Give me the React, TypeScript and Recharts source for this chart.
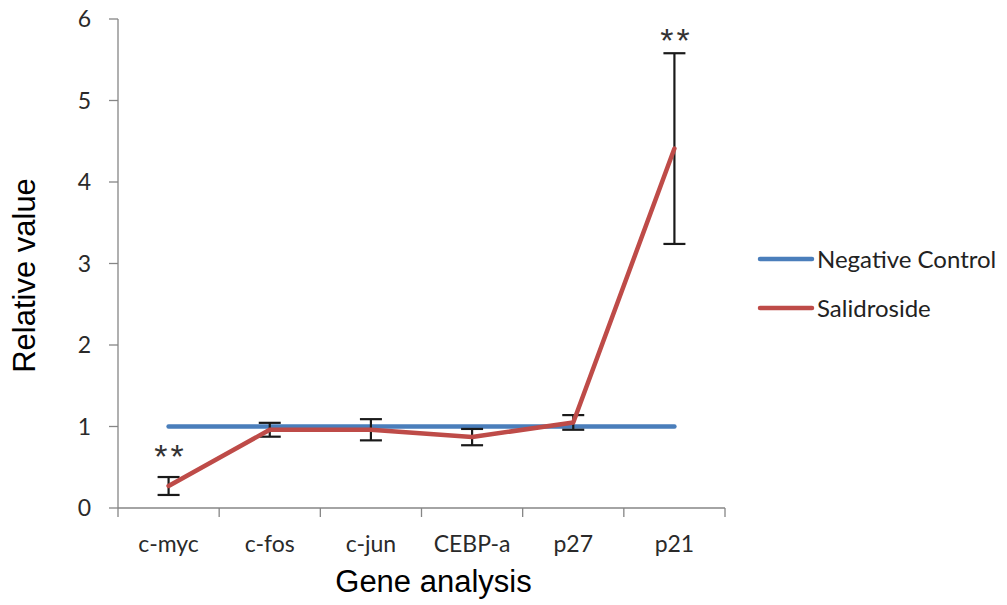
import React from 'react';
import {
  ComposedChart,
  Line,
  XAxis,
  YAxis,
  ErrorBar,
  Legend,
  Scatter,
  Label,
} from 'recharts';

const categories = ['c-myc', 'c-fos', 'c-jun', 'CEBP-a', 'p27', 'p21'];
const negativeControl = [1, 1, 1, 1, 1, 1];
const salidroside = [0.27, 0.96, 0.96, 0.87, 1.05, 4.41];
const salidrosideErr = [0.11, 0.085, 0.13, 0.1, 0.09, 1.17];
const significance = ['**', '', '', '', '', '**'];
const significanceY = [0.69, null, null, null, null, 5.79];
const yTicks = [0, 1, 2, 3, 4, 5, 6];

const data = categories.map((name, i) => ({
  name,
  x: i + 0.5,
  negative: negativeControl[i],
  salidroside: salidroside[i],
  err: salidrosideErr[i],
}));

const sigData = categories
  .map((name, i) => ({ name, x: i + 0.5, y: significanceY[i], label: significance[i] }))
  .filter((d) => d.label !== '' && d.y !== null);

const xTicks: number[] = [];
for (let i = 0; i <= categories.length; i++) {
  xTicks.push(i);
  if (i < categories.length) xTicks.push(i + 0.5);
}

const AXIS = '#868686';
const TICK_FONT = 'Lato, "Open Sans", sans-serif';
const TITLE_FONT = '"Liberation Sans", Arial, sans-serif';

const XTick = (props: any) => {
  const { x, y, payload } = props;
  const v = payload.value as number;
  if (Number.isInteger(v)) {
    return <line x1={x} y1={y} x2={x} y2={y + 9} stroke={AXIS} strokeWidth={1.3} />;
  }
  const idx = Math.floor(v);
  return (
    <text x={x} y={y + 44} textAnchor="middle" fontFamily={TICK_FONT} fontSize={23} fill="#2a2a2a">
      {categories[idx]}
    </text>
  );
};

const StarShape = (props: any) => {
  const { cx, cy, payload } = props;
  return (
    <text
      x={cx + 2}
      y={cy + 16}
      textAnchor="middle"
      fontFamily={TITLE_FONT}
      fontSize={34}
      letterSpacing={3}
      fill="#333"
    >
      {payload.label}
    </text>
  );
};

const LegendContent = (props: any) => {
  const items = (props.payload || []).filter((p: any) => p.type !== 'none');
  return (
    <div style={{ fontFamily: TICK_FONT, fontSize: 24, color: '#222' }}>
      {items.map((p: any) => (
        <div key={p.value} style={{ height: 49, display: 'flex', alignItems: 'center' }}>
          <svg width={60} height={10} style={{ display: 'block' }}>
            <line x1={3} y1={5} x2={55} y2={5} stroke={p.color} strokeWidth={4.5} strokeLinecap="round" />
          </svg>
          <span style={{ whiteSpace: 'nowrap' }}>{p.value}</span>
        </div>
      ))}
    </div>
  );
};

export default function App() {
  return (
    <div style={{ position: 'absolute', left: 0, top: 0, width: 1007, height: 605, background: '#fff' }}>
      <ComposedChart
        width={1007}
        height={605}
        data={data}
        margin={{ top: 19, right: 282, bottom: 37, left: 0 }}
      >
        <XAxis
          dataKey="x"
          type="number"
          domain={[0, categories.length]}
          ticks={xTicks}
          interval={0}
          tick={<XTick />}
          tickLine={false}
          tickSize={0}
          tickMargin={0}
          axisLine={{ stroke: AXIS, strokeWidth: 1.3 }}
          height={60}
        >
          <Label
            content={(p: any) => {
              const vb = p.viewBox;
              return (
                <text
                  x={vb.x + vb.width / 2 + 12}
                  y={592}
                  textAnchor="middle"
                  fontFamily={TITLE_FONT}
                  fontSize={31}
                  fill="#000"
                >
                  Gene analysis
                </text>
              );
            }}
          />
        </XAxis>
        <YAxis
          type="number"
          domain={[0, 6]}
          ticks={yTicks}
          interval={0}
          width={118}
          tickSize={9}
          tickMargin={18}
          tick={{ fontFamily: TICK_FONT, fontSize: 23, fill: '#2a2a2a' }}
          tickLine={{ stroke: AXIS, strokeWidth: 1.3 }}
          axisLine={{ stroke: AXIS, strokeWidth: 1.3 }}
        >
          <Label
            content={(p: any) => {
              const vb = p.viewBox;
              const cy = vb.y + vb.height / 2 + 12;
              return (
                <text
                  x={35}
                  y={cy}
                  transform={`rotate(-90 35 ${cy})`}
                  textAnchor="middle"
                  fontFamily={TITLE_FONT}
                  fontSize={31}
                  fill="#000"
                >
                  Relative value
                </text>
              );
            }}
          />
        </YAxis>
        <Legend
          layout="horizontal"
          verticalAlign="middle"
          align="center"
          content={<LegendContent />}
          wrapperStyle={{ left: 757, top: 234, width: 250 }}
        />
        <Line
          name="Negative Control"
          dataKey="negative"
          stroke="#4A7EBB"
          strokeWidth={4.5}
          strokeLinecap="round"
          dot={false}
          activeDot={false}
          isAnimationActive={false}
        />
        <Line
          name="Salidroside"
          dataKey="salidroside"
          stroke="#BE4B48"
          strokeWidth={4.5}
          strokeLinecap="round"
          strokeLinejoin="round"
          dot={false}
          activeDot={false}
          isAnimationActive={false}
        >
          <ErrorBar dataKey="err" width={11} strokeWidth={2.2} stroke="#1a1a1a" direction="y" />
        </Line>
        <Scatter
          data={sigData}
          dataKey="y"
          legendType="none"
          shape={<StarShape />}
          isAnimationActive={false}
        />
      </ComposedChart>
    </div>
  );
}
